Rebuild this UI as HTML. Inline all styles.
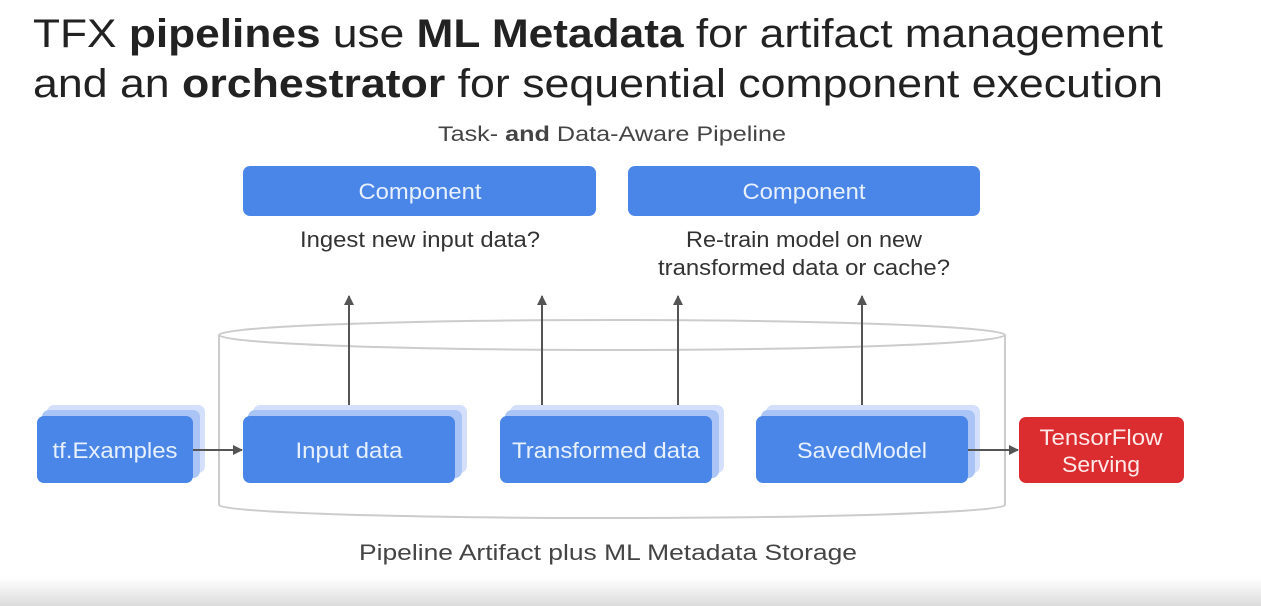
<!DOCTYPE html>
<html><head><meta charset="utf-8"><style>
html,body{margin:0;padding:0;background:#fff;}
svg{display:block;font-family:"Liberation Sans",sans-serif;}
</style></head><body>
<svg width="1261" height="606" viewBox="0 0 1261 606" xmlns="http://www.w3.org/2000/svg">
<defs>
<linearGradient id="bg" x1="0" y1="0" x2="0" y2="1"><stop offset="0" stop-color="#fff"/><stop offset="1" stop-color="#dcdcdc"/></linearGradient>
<marker id="ah" markerWidth="10" markerHeight="10" refX="9" refY="5" orient="auto" markerUnits="userSpaceOnUse"><path d="M0,0 L10,5 L0,10 z" fill="#555"/></marker>
</defs>
<rect x="0" y="578" width="1261" height="28" fill="url(#bg)"/>
<text x="33" y="47" font-size="40" fill="#222" textLength="1130" lengthAdjust="spacingAndGlyphs">TFX <tspan font-weight="bold">pipelines</tspan> use <tspan font-weight="bold">ML Metadata</tspan> for artifact management</text>
<text x="33" y="97" font-size="40" fill="#222" textLength="1130" lengthAdjust="spacingAndGlyphs">and an <tspan font-weight="bold">orchestrator</tspan> for sequential component execution</text>
<text x="612" y="141" font-size="21" fill="#444" text-anchor="middle" textLength="348" lengthAdjust="spacingAndGlyphs">Task- <tspan font-weight="bold">and</tspan> Data-Aware Pipeline</text>
<g fill="none" stroke="#ccc" stroke-width="2">
<ellipse cx="612" cy="335" rx="393" ry="15"/>
<path d="M219,335 L219,505 A393,13 0 0 0 1005,505 L1005,335"/>
</g>
<rect x="243" y="166" width="353" height="50" rx="7" fill="#4a86e8"/>
<rect x="628" y="166" width="352" height="50" rx="7" fill="#4a86e8"/>
<text x="420" y="199" font-size="22" fill="#e8f0ff" text-anchor="middle" textLength="123" lengthAdjust="spacingAndGlyphs">Component</text>
<text x="804" y="199" font-size="22" fill="#e8f0ff" text-anchor="middle" textLength="123" lengthAdjust="spacingAndGlyphs">Component</text>
<text x="420" y="247" font-size="22" fill="#333" text-anchor="middle" textLength="240" lengthAdjust="spacingAndGlyphs">Ingest new input data?</text>
<text x="804" y="247" font-size="22" fill="#333" text-anchor="middle" textLength="236" lengthAdjust="spacingAndGlyphs">Re-train model on new</text>
<text x="804" y="275" font-size="22" fill="#333" text-anchor="middle" textLength="292" lengthAdjust="spacingAndGlyphs">transformed data or cache?</text>
<g stroke="#555" stroke-width="2">
<line x1="349" y1="416" x2="349" y2="296" marker-end="url(#ah)"/>
<line x1="542" y1="416" x2="542" y2="296" marker-end="url(#ah)"/>
<line x1="678" y1="416" x2="678" y2="296" marker-end="url(#ah)"/>
<line x1="862" y1="416" x2="862" y2="296" marker-end="url(#ah)"/>
</g>
<g>
<rect x="47" y="405" width="158" height="68" rx="7" fill="#d4e0fb"/>
<rect x="42" y="410" width="158" height="68" rx="7" fill="#a9c4f5"/>
<rect x="37" y="416" width="156" height="67" rx="7" fill="#4a86e8"/>
<rect x="253" y="405" width="214" height="68" rx="7" fill="#d4e0fb"/>
<rect x="248" y="410" width="214" height="68" rx="7" fill="#a9c4f5"/>
<rect x="243" y="416" width="212" height="67" rx="7" fill="#4a86e8"/>
<rect x="510" y="405" width="214" height="68" rx="7" fill="#d4e0fb"/>
<rect x="505" y="410" width="214" height="68" rx="7" fill="#a9c4f5"/>
<rect x="500" y="416" width="212" height="67" rx="7" fill="#4a86e8"/>
<rect x="766" y="405" width="214" height="68" rx="7" fill="#d4e0fb"/>
<rect x="761" y="410" width="214" height="68" rx="7" fill="#a9c4f5"/>
<rect x="756" y="416" width="212" height="67" rx="7" fill="#4a86e8"/>
<rect x="1019" y="417" width="165" height="66" rx="7" fill="#db2c30"/>
</g>
<g font-size="22" fill="#e8f0ff" text-anchor="middle">
<text x="115" y="458" textLength="125" lengthAdjust="spacingAndGlyphs">tf.Examples</text>
<text x="349" y="458" textLength="107" lengthAdjust="spacingAndGlyphs">Input data</text>
<text x="606" y="458" textLength="188" lengthAdjust="spacingAndGlyphs">Transformed data</text>
<text x="862" y="458" textLength="130" lengthAdjust="spacingAndGlyphs">SavedModel</text>
<text x="1101" y="445" fill="#ffe8e8" textLength="123" lengthAdjust="spacingAndGlyphs">TensorFlow</text>
<text x="1101" y="472" fill="#ffe8e8" textLength="78" lengthAdjust="spacingAndGlyphs">Serving</text>
</g>
<g stroke="#555" stroke-width="2">
<line x1="193" y1="450" x2="242" y2="450" marker-end="url(#ah)"/>
<line x1="968" y1="450" x2="1018" y2="450" marker-end="url(#ah)"/>
</g>
<text x="608" y="560" font-size="22" fill="#444" text-anchor="middle" textLength="498" lengthAdjust="spacingAndGlyphs">Pipeline Artifact plus ML Metadata Storage</text>
</svg>
</body></html>
